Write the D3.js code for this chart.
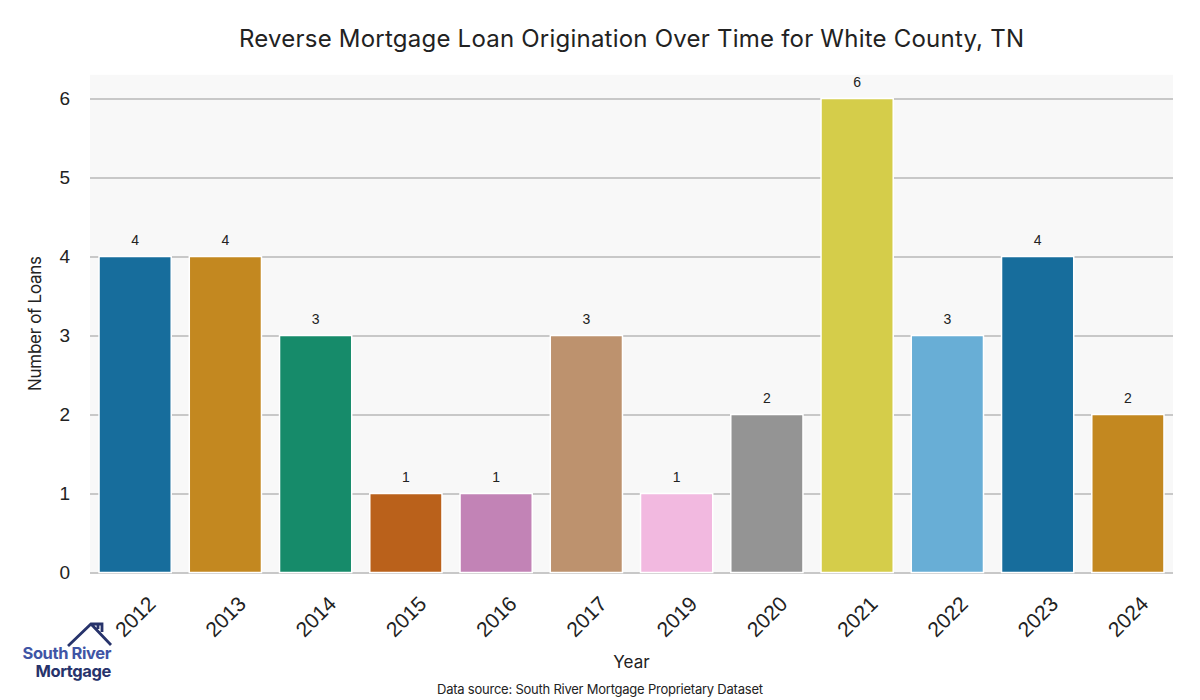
<!DOCTYPE html>
<html><head><meta charset="utf-8">
<script src="https://cdn.jsdelivr.net/npm/d3@7"></script>
<style>body{margin:0;background:#fff}svg{display:block}</style>
</head><body>
<svg id="c" width="1200" height="700"></svg>
<script>
const years = ["2012","2013","2014","2015","2016","2017","2019","2020","2021","2022","2023","2024"];
const loans = [4,4,3,1,1,3,1,2,6,3,4,2];
const palette = ["#176D9C","#C38820","#168B6A","#BA611B","#C283B6","#BD926E","#F2B9E0","#949494","#D5CD4A","#68AED6"];
const yTicks = [0,1,2,3,4,5,6];

const svg = d3.select("#c");
const m = {l:90, r:1173, t:74.8, b:572.5};
const x = d3.scaleBand().domain(years).range([m.l, m.r]).padding(0.2).paddingOuter(0.1);
const y = d3.scaleLinear().domain([0, 6.3]).range([m.b, m.t]);
const sans = "Inter, 'Noto Sans', sans-serif";
const arial = "'Liberation Sans', Arial, sans-serif";

svg.append("rect").attr("x", m.l).attr("y", m.t).attr("width", m.r-m.l).attr("height", m.b-m.t+1).attr("fill","#f8f8f8");

// grid
const yAxis = d3.axisLeft(y).tickValues(yTicks).tickSize(-(m.r-m.l)).tickPadding(20).tickFormat(d3.format("d"));
const gy = svg.append("g").attr("transform",`translate(${m.l},0)`).call(yAxis);
gy.select(".domain").remove();
gy.selectAll(".tick line").attr("stroke","#c8c8c8").attr("stroke-width",2);
gy.selectAll(".tick text").attr("font-family",arial).attr("font-size",19).attr("fill","#222").attr("x",-20);

// bars
svg.append("g").selectAll("rect").data(years).join("rect")
  .attr("x", d => x(d)).attr("width", x.bandwidth())
  .attr("y", (d,i) => y(loans[i])).attr("height", (d,i) => y(0) - y(loans[i]))
  .attr("fill", (d,i) => palette[i % palette.length])
  .attr("stroke","#fff").attr("stroke-width",1.5);

// value labels
svg.append("g").selectAll("text").data(years).join("text")
  .attr("x", d => x(d) + x.bandwidth()/2).attr("y", (d,i) => y(loans[i]) - 12)
  .attr("text-anchor","middle").attr("font-family",arial).attr("font-size",14).attr("fill","#222")
  .text((d,i) => loans[i]);

// x axis labels
const xAxis = d3.axisBottom(x).tickSize(0).tickPadding(0);
const gx = svg.append("g").attr("transform",`translate(0,${m.b})`).call(xAxis);
gx.select(".domain").remove();
gx.selectAll(".tick text")
  .attr("font-family",arial).attr("font-size",21).attr("fill","#222")
  .attr("text-anchor","middle").attr("dy",0).attr("y",0)
  .attr("transform","translate(0,44) rotate(-45)")
  .attr("dominant-baseline","central");

// title
svg.append("text").attr("x", (m.l+m.r)/2).attr("y", 47).attr("text-anchor","middle")
  .attr("font-family",sans).attr("font-size",24).attr("fill","#222")
  .attr("textLength",785).attr("lengthAdjust","spacing")
  .text("Reverse Mortgage Loan Origination Over Time for White County, TN");

// axis titles
svg.append("text").attr("transform",`translate(41,${(m.t+m.b)/2}) rotate(-90)`).attr("text-anchor","middle")
  .attr("font-family",sans).attr("font-size",17).attr("fill","#222").attr("letter-spacing","-0.3")
  .text("Number of Loans");
svg.append("text").attr("x",(m.l+m.r)/2).attr("y",668).attr("text-anchor","middle")
  .attr("font-family",sans).attr("font-size",17).attr("fill","#222")
  .text("Year");

// source
svg.append("text").attr("x",600).attr("y",694).attr("text-anchor","middle")
  .attr("font-family",sans).attr("font-size",13).attr("fill","#222")
  .attr("textLength",326).attr("lengthAdjust","spacing")
  .text("Data source: South River Mortgage Proprietary Dataset");

// logo
const logo = svg.append("g");
logo.append("path").attr("d","M68,646 L91,624 L98,624 L98,629 M91,624 L111,645 M98,624 L102,624 L102,632")
  .attr("fill","none").attr("stroke","#27336B").attr("stroke-width",2.8).attr("stroke-linejoin","miter");
logo.append("text").attr("x",111).attr("y",659).attr("text-anchor","end")
  .attr("font-family",sans).attr("font-weight",700).attr("font-size",16.5).attr("fill","#3F55A5").attr("letter-spacing","-0.4")
  .text("South River");
logo.append("text").attr("x",111).attr("y",677).attr("text-anchor","end")
  .attr("font-family",sans).attr("font-weight",700).attr("font-size",16.5).attr("fill","#27336B").attr("letter-spacing","-0.4")
  .text("Mortgage");
</script>
</body></html>
